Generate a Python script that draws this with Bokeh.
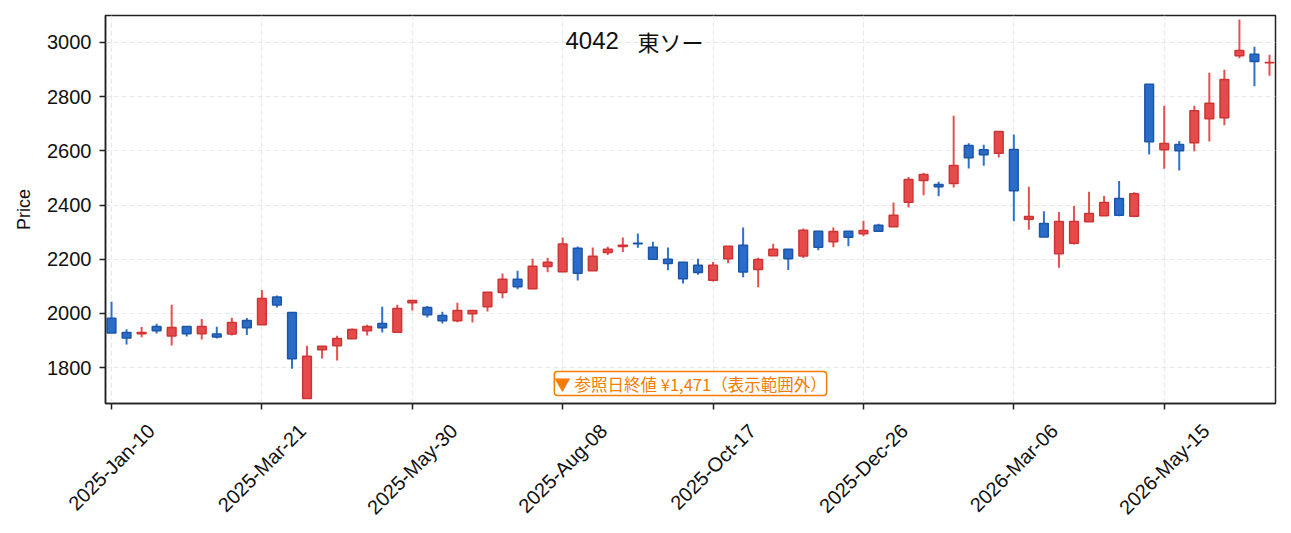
import math
from bokeh.plotting import figure
from bokeh.layouts import column
from bokeh.models import ColumnDataSource, FixedTicker, Label
from bokeh.core.properties import value
from bokeh.embed import file_html
from bokeh.resources import INLINE

title_code = "4042"
title_name = "東ソー"
note_text = "▼ 参照日終値 ¥1,471（表示範囲外）"

tick_index = [0, 10, 20, 30, 40, 50, 60, 70]
tick_labels = ["2025-Jan-10", "2025-Mar-21", "2025-May-30", "2025-Aug-08",
               "2025-Oct-17", "2025-Dec-26", "2026-Mar-06", "2026-May-15"]
y_ticks = [1800, 2000, 2200, 2400, 2600, 2800, 3000]

opens = [1982, 1930, 1925, 1952, 1917, 1952, 1925, 1924, 1924, 1974,
         1958, 2061, 2004, 1686, 1866, 1881, 1907, 1936, 1963, 1931,
         2040, 2022, 1993, 1973, 1999, 2025, 2077, 2126, 2091, 2173,
         2154, 2241, 2158, 2225, 2247, 2259, 2244, 2200, 2189, 2178,
         2123, 2202, 2252, 2162, 2213, 2237, 2212, 2303, 2265, 2303,
         2294, 2325, 2320, 2410, 2490, 2476, 2479, 2620, 2604, 2591,
         2605, 2348, 2332, 2220, 2259, 2338, 2360, 2424, 2359, 2845,
         2604, 2623, 2630, 2718, 2722, 2951, 2956, 2925]
highs = [2043, 1942, 1950, 1962, 2032, 1952, 1980, 1951, 1984, 1983,
         2087, 2066, 2004, 1881, 1879, 1918, 1945, 1958, 2025, 2032,
         2048, 2028, 2006, 2040, 2011, 2078, 2147, 2158, 2202, 2206,
         2280, 2247, 2243, 2246, 2280, 2295, 2265, 2243, 2189, 2202,
         2190, 2248, 2317, 2206, 2257, 2237, 2313, 2303, 2317, 2303,
         2342, 2331, 2409, 2503, 2519, 2486, 2729, 2628, 2622, 2671,
         2660, 2467, 2377, 2374, 2396, 2449, 2433, 2489, 2447, 2845,
         2766, 2636, 2766, 2888, 2899, 3084, 2984, 2954]
lows = [1928, 1886, 1912, 1926, 1882, 1915, 1904, 1908, 1919, 1921,
        1958, 2022, 1796, 1686, 1834, 1827, 1907, 1919, 1930, 1928,
        2011, 1985, 1963, 1968, 1967, 2007, 2056, 2089, 2091, 2152,
        2154, 2122, 2158, 2216, 2227, 2242, 2200, 2159, 2111, 2143,
        2118, 2185, 2134, 2097, 2213, 2160, 2205, 2233, 2244, 2248,
        2285, 2303, 2320, 2391, 2436, 2432, 2465, 2535, 2545, 2575,
        2340, 2309, 2282, 2169, 2254, 2338, 2360, 2359, 2355, 2586,
        2534, 2527, 2598, 2634, 2694, 2941, 2838, 2877]
closes = [1928, 1910, 1930, 1936, 1948, 1925, 1952, 1913, 1967, 1947,
          2055, 2031, 1833, 1842, 1879, 1908, 1941, 1952, 1947, 2018,
          2048, 1995, 1973, 2011, 2011, 2078, 2126, 2099, 2174, 2189,
          2256, 2148, 2211, 2237, 2252, 2257, 2200, 2184, 2128, 2151,
          2178, 2248, 2153, 2199, 2237, 2202, 2307, 2244, 2302, 2281,
          2306, 2303, 2362, 2494, 2513, 2467, 2546, 2574, 2585, 2671,
          2453, 2358, 2282, 2339, 2339, 2369, 2409, 2362, 2442, 2633,
          2627, 2600, 2748, 2775, 2863, 2970, 2929, 2926]

UP_FILL, UP_LINE, UP_WICK = "#e64b4b", "#cf3434", "#e65050"
DN_FILL, DN_LINE, DN_WICK = "#2a6cc8", "#1d55a8", "#2f72cc"

xs = list(range(len(opens)))
up = [c >= o for o, c in zip(opens, closes)]
src = ColumnDataSource(dict(
    x=xs,
    top=[max(o, c) for o, c in zip(opens, closes)],
    bottom=[min(o, c) for o, c in zip(opens, closes)],
    high=highs, low=lows,
    fill=[UP_FILL if u else DN_FILL for u in up],
    line=[UP_LINE if u else DN_LINE for u in up],
    wick=[UP_WICK if u else DN_WICK for u in up],
))

LATIN = "Liberation Sans"
CJK = "Noto Sans CJK JP"
TICK_PX = 20

# layout (pixels)
LEFT, TOP, RIGHT, FW, FH, AXB = 105, 15, 8, 1170, 388, 10
X0, X1 = -0.4, 77.4

p = figure(frame_width=FW, frame_height=FH,
           x_range=(X0, X1), y_range=(1668, 3099),
           output_backend="svg", toolbar_location=None,
           min_border_left=LEFT, min_border_top=TOP, min_border_right=RIGHT,
           min_border_bottom=AXB)
p.frame_align = False
p.background_fill_color = "white"
p.outline_line_color = "#222222"
p.outline_line_width = 1.5

p.segment(x0="x", y0="low", x1="x", y1="high", source=src,
          line_color="wick", line_width=2)
p.vbar(x="x", top="top", bottom="bottom", width=0.58, source=src,
       fill_color="fill", line_color="line", line_width=1.5)

p.xaxis.ticker = FixedTicker(ticks=tick_index)
p.yaxis.ticker = FixedTicker(ticks=y_ticks)
p.yaxis.axis_label = "Price"
p.yaxis.axis_label_text_font_style = "normal"
p.yaxis.axis_label_text_font_size = "18px"
p.yaxis.axis_label_text_font = LATIN
p.yaxis.axis_label_text_color = "#111111"
p.yaxis.axis_label_standoff = 10
for ax in (p.xaxis, p.yaxis):
    ax.axis_line_color = "#222222"
    ax.axis_line_width = 1.5
    ax.major_tick_line_color = "#222222"
    ax.major_tick_line_width = 1.5
    ax.major_tick_out = 6
    ax.major_tick_in = 0
    ax.minor_tick_line_color = None
    ax.major_label_text_font = LATIN
    ax.major_label_text_font_size = f"{TICK_PX}px"
    ax.major_label_text_color = "#111111"
    ax.major_label_standoff = 8
p.xaxis.major_label_overrides = {i: "" for i in tick_index}
p.xaxis.major_label_text_font_size = "0px"
p.xaxis.major_label_standoff = 0

p.grid.grid_line_color = "#e8e8e8"
p.grid.grid_line_dash = "5 3"
p.grid.grid_line_width = 1.2

p.add_layout(Label(x=460, y=363, x_units="screen", y_units="screen",
                   text=title_code, text_font=LATIN, text_font_size="24px",
                   text_color="#111111", text_align="left",
                   text_baseline="middle"))
p.add_layout(Label(x=532, y=363, x_units="screen", y_units="screen",
                   text=title_name, text_font=CJK, text_font_size="22px",
                   text_color="#111111", text_align="left",
                   text_baseline="middle"))
p.add_layout(Label(x=585, y=20, x_units="screen", y_units="screen",
                   text=note_text, text_font=CJK, text_font_size="16.5px",
                   text_color="#f57c00", text_align="center",
                   text_baseline="middle",
                   background_fill_color="white",
                   border_line_color="#f57c00", border_line_width=1.5,
                   border_radius=3, padding=0))

# strip below the chart for rotated date labels centred under each tick
STRIP_H = 115
TOTAL_W = LEFT + FW + RIGHT
upx = (X1 - X0) / FW
q = figure(frame_width=TOTAL_W, frame_height=STRIP_H,
           x_range=(X0 - LEFT * upx, X1 + RIGHT * upx), y_range=(-STRIP_H, 0),
           output_backend="svg", toolbar_location=None,
           x_axis_location=None, y_axis_location=None,
           min_border_left=0, min_border_right=0, min_border_top=0,
           min_border_bottom=0)
q.frame_align = False
q.outline_line_color = None
q.grid.visible = False

_w = {"0": .556, "1": .556, "2": .556, "3": .556, "4": .556, "5": .556,
      "6": .556, "7": .556, "8": .556, "9": .556, "-": .333, "J": .5,
      "a": .556, "n": .556, "M": .833, "r": .333, "y": .5, "A": .667,
      "u": .556, "g": .556, "O": .778, "c": .5, "t": .278, "D": .722,
      "e": .556}
label_y = []
for tl in tick_labels:
    wpx = sum(_w.get(ch, .556) for ch in tl) * TICK_PX
    half = (wpx + 0.7 * TICK_PX) * math.sin(math.pi / 4) / 2
    label_y.append(-(9 + half))
q.text(x=tick_index, y=label_y, text=tick_labels, angle=math.pi / 4,
       text_font=value(LATIN), text_font_size=f"{TICK_PX}px",
       text_color="#111111", text_align="center", text_baseline="middle")

layout = column(p, q, spacing=0)
open("out.html", "w").write(file_html(layout, INLINE))
